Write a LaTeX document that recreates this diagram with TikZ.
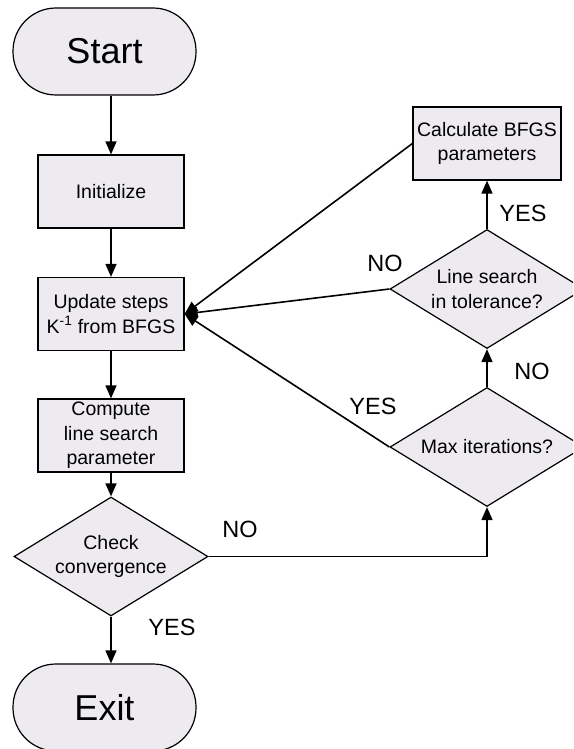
\documentclass[tikz,border=0pt]{standalone}
\usepackage{fontspec}
\setmainfont{Liberation Sans}
\usetikzlibrary{shapes.geometric,arrows.meta}
\definecolor{boxfill}{RGB}{238,235,240}
\begin{document}
\begin{tikzpicture}[x=1pt,y=-1pt,
  term/.style={draw=black,line width=1.2pt,fill=boxfill,rounded corners=43pt,
    minimum width=183pt,minimum height=87pt,inner sep=0pt,font=\fontsize{36}{40}\selectfont},
  procbox/.style={draw=black,line width=1.2pt,fill=boxfill,
    minimum width=146pt,minimum height=73pt,inner sep=0pt,align=center,
    font=\fontsize{19.5}{24.5}\selectfont},
  decision/.style={draw=black,line width=1.2pt,fill=boxfill,diamond,aspect=1.63,
    minimum width=194pt,minimum height=119pt,inner sep=0pt,align=center,
    font=\fontsize{19.5}{24.5}\selectfont},
  conn/.style={line width=1.6pt,-{Triangle[length=13pt,width=11pt]}},
  lbl/.style={font=\fontsize{23.5}{26}\selectfont,inner sep=0pt}]
\useasboundingbox (0,0) rectangle (573,749);
\clip (0,0) rectangle (573,749);
\node[term] (start) at (104.5,51.5) {Start};
\node[procbox] (init) at (111,191.5) {Initialize};
\node[procbox] (update) at (111,314) {Update steps\\K\textsuperscript{-1} from BFGS};
\node[procbox] (compute) at (111,435.5) {Compute\\line search\\parameter};
\node[decision] (check) at (111,556.5) {Check\\convergence};
\node[term] (exit) at (104.5,707.5) {Exit};
\node[procbox,minimum width=148pt] (calc) at (487,143.5) {Calculate BFGS\\parameters};
\node[decision] (line) at (487,289) {Line search\\in tolerance?};
\node[decision] (max) at (487,447) {Max iterations?};
\draw[conn] (start.south -| init.north) -- (init.north);
\draw[conn] (init.south) -- (update.north);
\draw[conn] (update.south) -- (compute.north);
\draw[conn] (compute.south) -- (check.north);
\draw[conn] (check.south) -- (check.south |- exit.north);
\draw[conn] (check.east) -| (max.south);
\draw[conn] (max.north) -- (line.south);
\draw[conn] (line.north) -- (calc.south);
\draw[conn] (calc.west) -- (update.east);
\draw[conn] (line.west) -- (update.east);
\draw[conn] (max.west) -- (update.east);
\node[lbl] (lno1) at (240,529) {NO};
\node[lbl] (lyes1) at (172,627) {YES};
\node[lbl] (lyes2) at (523,213) {YES};
\node[lbl] (lno2) at (385,263) {NO};
\node[lbl] (lno3) at (532,371) {NO};
\node[lbl] (lyes3) at (373,406) {YES};
\end{tikzpicture}
\end{document}
